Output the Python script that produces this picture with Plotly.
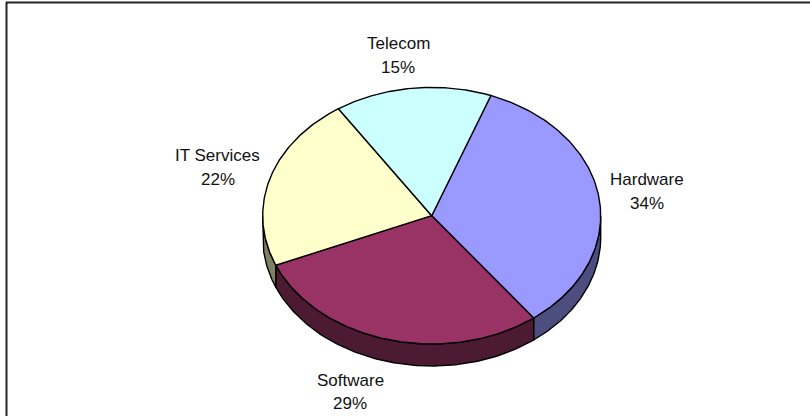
import numpy as np
import plotly.graph_objects as go

# Sector shares of the pie, clockwise from the start angle
categories = ["Hardware", "Software", "IT Services", "Telecom"]
shares = [34, 29, 22, 15]

top_colors = ["#9999FF", "#993366", "#FFFFCC", "#CCFFFF"]
wall_colors = ["#4D4D80", "#4D1A33", "#808066", "#66807F"]

# Page-pixel geometry of the tilted disc
CX, CY = 431.7, 215.7
RX, RY = 169.0, 128.3
DEPTH = 22.0
START_DEG = 20.5
# Label centre per category: x, y of the name line, y of the percentage line
label_places = [(646.5, 179, 203), (350, 380, 403), (217.5, 155, 179), (398, 43, 67)]
FONT = "Liberation Sans, Arial, sans-serif"
FONT_SIZE = 17


def rim(deg, drop=0.0):
    t = np.radians(deg)
    return CX + RX * np.sin(t), CY - RY * np.cos(t) + drop


fig = go.Figure()


def add_poly(xs, ys, color, name):
    fig.add_trace(go.Scatter(
        x=xs, y=ys, mode="lines", fill="toself", fillcolor=color,
        line=dict(color="black", width=1.4), name=name,
        hoverinfo="name", showlegend=False,
    ))


total = sum(shares)
edges = START_DEG + np.cumsum([0] + shares) * 360.0 / total

# Side walls are only visible along the front half of the rim (90 to 270 degrees)
for i, cat in enumerate(categories):
    lo, hi = max(edges[i], 90.0), min(edges[i + 1], 270.0)
    if lo >= hi:
        continue
    a = np.linspace(lo, hi, 120)
    x_top, y_top = rim(a)
    x_low, y_low = rim(a, DEPTH)
    xs = np.concatenate([x_top, x_low[::-1], x_top[:1]])
    ys = np.concatenate([y_top, y_low[::-1], y_top[:1]])
    add_poly(xs, ys, wall_colors[i], cat)

# Top faces
for i, cat in enumerate(categories):
    a = np.linspace(edges[i], edges[i + 1], 160)
    x_arc, y_arc = rim(a)
    xs = np.concatenate([[CX], x_arc, [CX]])
    ys = np.concatenate([[CY], y_arc, [CY]])
    add_poly(xs, ys, top_colors[i], cat)

# Category and percentage labels, one annotation per line for the wide leading
annotations = []
for i, cat in enumerate(categories):
    x, y_name, y_pct = label_places[i]
    for text, y in ((cat, y_name), (f"{shares[i] / total:.0%}", y_pct)):
        annotations.append(dict(
            x=x, y=y, xref="x", yref="y", showarrow=False, text=text,
            font=dict(family=FONT, size=FONT_SIZE, color="#111111"),
        ))

# Chart frame: only the top and left edges fall inside the page
frame = [
    dict(type="line", xref="x", yref="y", x0=6, x1=810, y0=2.5, y1=2.5,
         line=dict(color="#222222", width=2)),
    dict(type="line", xref="x", yref="y", x0=6.5, x1=6.5, y0=2, y1=416,
         line=dict(color="#222222", width=2)),
]

fig.update_layout(
    width=810, height=416, margin=dict(l=0, r=0, t=0, b=0),
    paper_bgcolor="white", plot_bgcolor="white", showlegend=False,
    xaxis=dict(range=[0, 810], visible=False, fixedrange=True),
    yaxis=dict(range=[416, 0], visible=False, fixedrange=True),
    annotations=annotations, shapes=frame,
)

fig.write_html("out.html", config={"displayModeBar": False})
